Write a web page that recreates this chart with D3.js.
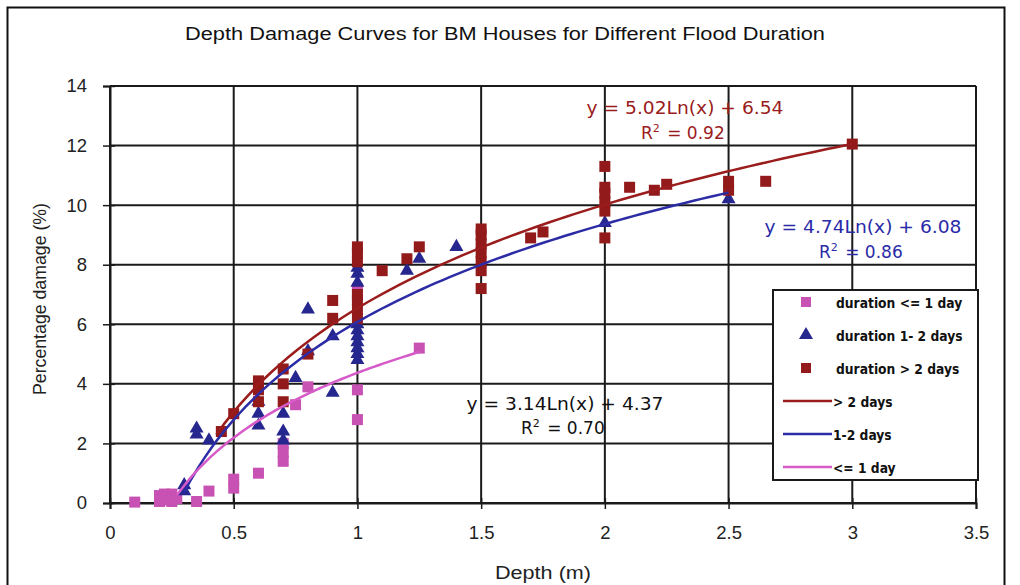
<!DOCTYPE html>
<html><head><meta charset="utf-8">
<script src="https://cdn.jsdelivr.net/npm/d3@7"></script>
<style>body{margin:0;background:#fff;}svg{display:block;}</style>
</head><body>
<svg id="c" width="1020" height="585"></svg>
<script>
// ---- data ----
const xTicks = [0, 0.5, 1, 1.5, 2, 2.5, 3, 3.5];
const yTicks = [0, 2, 4, 6, 8, 10, 12, 14];
const pinkX = [0.1,0.2,0.2,0.22,0.23,0.25,0.25,0.27,0.35,0.4,0.5,0.5,0.6,0.7,0.7,0.7,0.75,0.8,1.0,1.0,1.0,1.25];
const pinkY = [0.03,0.25,0.05,0.3,0.1,0.3,0.05,0.15,0.05,0.4,0.5,0.8,1.0,1.4,1.7,2.0,3.3,3.9,2.8,3.8,7.2,5.2];
const blueX = [0.3,0.3,0.35,0.35,0.4,0.6,0.6,0.6,0.7,0.7,0.7,0.75,0.8,0.8,0.9,0.9,1,1,1,1,1,1,1,1,1,1,1.2,1.25,1.4,2.0,2.5];
const blueY = [0.4,0.6,2.3,2.5,2.1,2.6,3.0,3.4,2.1,2.4,3.0,4.2,5.1,6.5,3.7,5.6,4.8,5.0,5.2,5.4,5.6,5.8,6.0,7.4,7.7,7.9,7.8,8.2,8.6,9.4,10.2];
const redX = [0.45,0.5,0.6,0.6,0.6,0.7,0.7,0.7,0.8,0.9,0.9,1,1,1,1,1,1,1,1.1,1.2,1.25,1.5,1.5,1.5,1.5,1.5,1.5,1.5,1.7,1.75,2,2,2,2,2,2,2.1,2.2,2.25,2.5,2.5,2.65,3];
const redY = [2.4,3.0,3.4,3.8,4.1,3.4,4.0,4.5,5.0,6.2,6.8,6.2,6.5,6.8,7.0,8.1,8.4,8.6,7.8,8.2,8.6,7.2,7.8,8.1,8.4,8.7,9.0,9.2,8.9,9.1,8.9,9.8,10.1,10.4,10.6,11.3,10.6,10.5,10.7,10.5,10.8,10.8,12.05];
// log trendlines y = a*ln(x) + b (coefficients as printed on the chart), over the fitted x range
const trendNames = ["> 2 days", "1-2 days", "<= 1 day"];
const trendA = [5.02, 4.74, 3.14];
const trendB = [6.54, 6.08, 4.37];
const trendFrom = [0.43, 0.3, 0.27];
const trendTo = [3.0, 2.5, 1.25];
const eqText = ["y = 5.02Ln(x) + 6.54", "y = 4.74Ln(x) + 6.08", "y = 3.14Ln(x) + 4.37"];
const r2Text = ["0.92", "0.86", "0.70"];
const scatterNames = ["duration <= 1 day", "duration 1- 2 days", "duration > 2 days"];

const C_PINK = "#c752b4", C_BLUE = "#26268f", C_RED = "#931a1a";
const L_RED = "#9a1c1c", L_BLUE = "#2c2ca6", L_PINK = "#d65ac8";

const svg = d3.select("#c");
const x = d3.scaleLinear().domain([0, 3.5]).range([110, 976]);
const y = d3.scaleLinear().domain([0, 14]).range([503, 86]);
const af = "Liberation Sans, Arial, sans-serif";
const ef = "DejaVu Sans, Verdana, sans-serif";

// frame
svg.append("rect").attr("x", 7.5).attr("y", 7.5).attr("width", 997).attr("height", 600)
  .attr("fill", "none").attr("stroke", "#111").attr("stroke-width", 2);

// title
svg.append("text").attr("x", 185).attr("y", 40)
  .attr("font-family", af).attr("font-size", 17.5).attr("fill", "#111")
  .attr("textLength", 640).attr("lengthAdjust", "spacingAndGlyphs")
  .text("Depth Damage Curves for BM Houses for Different Flood Duration");

// gridlines
const g = svg.append("g");
g.selectAll(".vg").data(xTicks).join("line")
  .attr("x1", d => x(d)).attr("x2", d => x(d)).attr("y1", y(0)).attr("y2", y(14))
  .attr("stroke", "#1a1a1a").attr("stroke-width", 2);
g.selectAll(".hg").data(yTicks).join("line")
  .attr("x1", x(0)).attr("x2", x(3.5)).attr("y1", d => y(d)).attr("y2", d => y(d))
  .attr("stroke", "#1a1a1a").attr("stroke-width", 2);

// axes
const xAxis = d3.axisBottom(x).tickValues(xTicks).tickFormat(d3.format("")).tickSize(6).tickPadding(17);
const yAxis = d3.axisLeft(y).tickValues(yTicks).tickFormat(d3.format("")).tickSize(7).tickPadding(16);
const ax = svg.append("g").attr("transform", `translate(0,${y(0)})`).call(xAxis);
const ay = svg.append("g").attr("transform", `translate(${x(0)},0)`).call(yAxis);
[ax, ay].forEach(a => {
  a.select(".domain").attr("stroke", "#1a1a1a").attr("stroke-width", 2);
  a.selectAll(".tick line").attr("stroke", "#1a1a1a").attr("stroke-width", 1.5);
  a.selectAll("text").attr("font-family", af).attr("font-size", 18.5).attr("fill", "#222");
});
ax.selectAll(".tick line").attr("y1", -5);
ay.selectAll(".tick line").attr("x1", 5);

svg.append("text").attr("x", 495).attr("y", 579)
  .attr("font-family", af).attr("font-size", 18).attr("fill", "#222")
  .attr("textLength", 96).attr("lengthAdjust", "spacingAndGlyphs").text("Depth (m)");
svg.append("text").attr("transform", "translate(46,395) rotate(-90)")
  .attr("font-family", af).attr("font-size", 17.5).attr("fill", "#222")
  .attr("textLength", 192).attr("lengthAdjust", "spacingAndGlyphs").text("Percentage damage (%)");

// scatter
const sq = 11;
const pts = svg.append("g");
pts.selectAll(".pk").data(d3.range(pinkX.length)).join("rect")
  .attr("x", i => x(pinkX[i]) - sq/2).attr("y", i => y(pinkY[i]) - sq/2).attr("width", sq).attr("height", sq).attr("fill", C_PINK);
const tri = d3.symbol().type(d3.symbolTriangle).size(85);
pts.selectAll(".bl").data(d3.range(blueX.length)).join("path")
  .attr("d", tri).attr("transform", i => `translate(${x(blueX[i])},${y(blueY[i])})`).attr("fill", C_BLUE);
pts.selectAll(".rd").data(d3.range(redX.length)).join("rect")
  .attr("x", i => x(redX[i]) - sq/2).attr("y", i => y(redY[i]) - sq/2).attr("width", sq).attr("height", sq).attr("fill", C_RED);

// trendlines
const lineCols = [L_RED, L_BLUE, L_PINK];
const line = d3.line().x(d => x(d[0])).y(d => y(d[1]));
trendA.forEach((a, k) => {
  const n = 80, pts2 = [];
  for (let j = 0; j <= n; j++) {
    const xv = trendFrom[k] + (trendTo[k] - trendFrom[k]) * j / n;
    pts2.push([xv, a * Math.log(xv) + trendB[k]]);
  }
  svg.append("path").datum(pts2).attr("d", line).attr("fill", "none")
    .attr("stroke", lineCols[k]).attr("stroke-width", 2.5);
});

// equations: [centreX, eqBaseline, r2Baseline, colour]
const eqPos = [[685, 114, 139, L_RED], [863, 233, 258, "#2a2aa8"], [565, 410, 434, "#111"]];
eqPos.forEach((p, k) => {
  svg.append("text").attr("x", p[0]).attr("y", p[1]).attr("text-anchor", "middle")
    .attr("font-family", ef).attr("font-size", 17).attr("fill", p[3])
    .attr("textLength", 197).attr("lengthAdjust", "spacingAndGlyphs").text(eqText[k]);
  const t = svg.append("text").attr("x", p[0] - 44).attr("y", p[2])
    .attr("font-family", ef).attr("font-size", 17).attr("fill", p[3]);
  t.append("tspan").text("R");
  t.append("tspan").attr("font-size", 11).attr("dy", -7).text("2");
  t.append("tspan").attr("dy", 7).attr("dx", 2).text(" = " + r2Text[k]);
});

// legend
const lg = svg.append("g");
lg.append("rect").attr("x", 773).attr("y", 290).attr("width", 205).attr("height", 190)
  .attr("fill", "#fff").attr("stroke", "#1a1a1a").attr("stroke-width", 2);
const legItems = [
  {name: scatterNames[0], kind: "sq", col: C_PINK},
  {name: scatterNames[1], kind: "tri", col: C_BLUE},
  {name: scatterNames[2], kind: "sq", col: C_RED},
  {name: trendNames[0], kind: "line", col: L_RED},
  {name: trendNames[1], kind: "line", col: L_BLUE},
  {name: trendNames[2], kind: "line", col: L_PINK}
];
legItems.forEach((it, i) => {
  const cy = 302 + i * 33;
  if (it.kind === "sq") lg.append("rect").attr("x", 801).attr("y", cy - 5).attr("width", 10).attr("height", 10).attr("fill", it.col);
  else if (it.kind === "tri") lg.append("path").attr("d", tri).attr("transform", `translate(806,${cy})`).attr("fill", it.col);
  else lg.append("line").attr("x1", 783).attr("x2", 832).attr("y1", cy).attr("y2", cy).attr("stroke", it.col).attr("stroke-width", 2.5);
  const t = lg.append("text").attr("x", it.kind === "line" ? 833 : 836).attr("y", cy + 6)
    .attr("font-family", ef).attr("font-size", 14.5).attr("font-weight", "bold").attr("fill", "#111").text(it.name);
  const w = t.node().getComputedTextLength();
  t.attr("textLength", w * 0.85).attr("lengthAdjust", "spacingAndGlyphs");
});
</script>
</body></html>
